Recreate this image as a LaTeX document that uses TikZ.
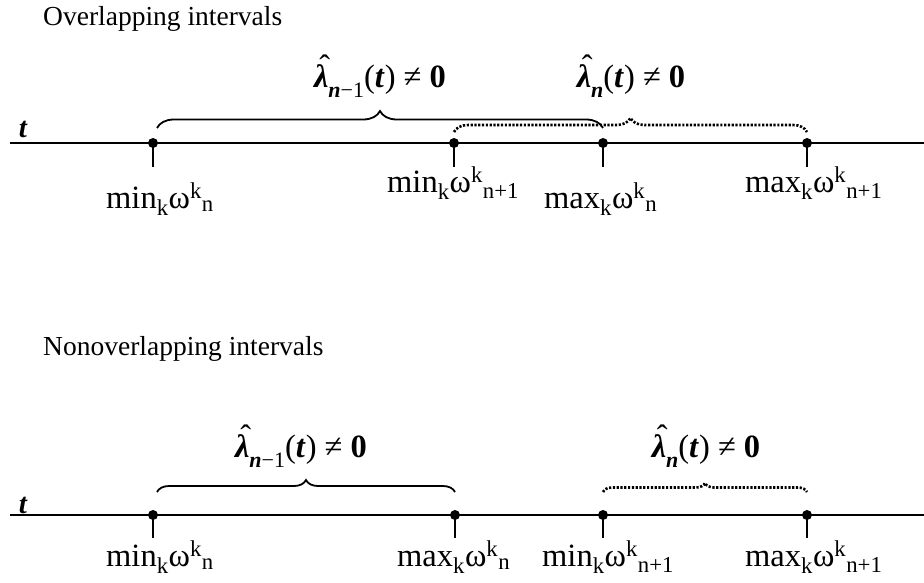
\documentclass[tikz,border=0pt]{standalone}
\usepackage{fontspec}
\setmainfont{Liberation Serif}
\usetikzlibrary{decorations.pathreplacing}

\newcommand{\lamhat}{\leavevmode\makebox[0pt][l]{\hspace{0.16em}\raisebox{0.3em}{ˆ}}{\bfseries\itshape λ}}
\newcommand{\lamsub}[1]{\raisebox{-0.33em}{\fontsize{22}{24}\selectfont #1}}
\newcommand{\wk}[2]{#1\textsubscript{k}ω\textsuperscript{k}\textsubscript{#2}}

\begin{document}
\begin{tikzpicture}[x=1pt,y=-1pt,
  axis/.style={line width=1.8pt},
  tickline/.style={line width=1.4pt},
  dot/.style={radius=5pt},
  solidbrace/.style={decorate,decoration={brace,amplitude=#1},line width=1.8pt},
  dotbrace/.style={decorate,decoration={brace,amplitude=#1},line width=2.6pt,dash pattern=on 2.2pt off 1.6pt},
  ttl/.style={anchor=base west,inner sep=0pt,font=\fontsize{27.5}{33}\selectfont},
  lbl/.style={anchor=base west,inner sep=0pt,font=\fontsize{32.5}{38}\selectfont},
  lam/.style={anchor=base,inner sep=0pt,font=\fontsize{32.5}{38}\selectfont},
  tvar/.style={inner sep=0pt,font=\fontsize{29}{34}\selectfont\bfseries\itshape}]
  \useasboundingbox (0,0) rectangle (924,582);

  % overlapping intervals
  \node[ttl] (ovtitle) at (43,25) {Overlapping intervals};
  \coordinate (ovL) at (10,143);
  \coordinate (ovR) at (924,143);
  \coordinate (ov1) at (153,143);
  \coordinate (ov2) at (454,143);
  \coordinate (ov3) at (603,143);
  \coordinate (ov4) at (807,143);
  \coordinate (ov1t) at (153,167);
  \coordinate (ov2t) at (454,167);
  \coordinate (ov3t) at (603,167);
  \coordinate (ov4t) at (807,167);
  \node[tvar] (ovt) at (23,129) {t};
  \draw[axis] (ovL) -- (ovR);
  \draw[tickline] (ov1) -- (ov1t);
  \draw[tickline] (ov2) -- (ov2t);
  \draw[tickline] (ov3) -- (ov3t);
  \draw[tickline] (ov4) -- (ov4t);
  \fill (ov1) circle[dot];
  \fill (ov2) circle[dot];
  \fill (ov3) circle[dot];
  \fill (ov4) circle[dot];
  \node[lbl] (ov1l) at (106,208) {\wk{min}{n}};
  \node[lbl] (ov2l) at (387,192) {\wk{min}{n+1}};
  \node[lbl] (ov3l) at (544,208) {\wk{max}{n}};
  \node[lbl] (ov4l) at (745,192) {\wk{max}{n+1}};
  \draw[solidbrace=17pt] ([xshift=4pt,yshift=15pt]ov1) -- ([yshift=15pt]ov3);
  \draw[dotbrace=14pt] ([yshift=11pt]ov2) -- ([yshift=11pt]ov4);
  \node[lam] (ovlam1) at (380,87) {\lamhat\lamsub{\textbf{\textit{n}}−1}(\textbf{\textit{t}}) ≠ \textbf{0}};
  \node[lam] (ovlam2) at (631,87) {\lamhat\lamsub{\textbf{\textit{n}}}(\textbf{\textit{t}}) ≠ \textbf{0}};

  % nonoverlapping intervals
  \node[ttl] (notitle) at (43,355) {Nonoverlapping intervals};
  \coordinate (noL) at (10,515);
  \coordinate (noR) at (924,515);
  \coordinate (no1) at (153,515);
  \coordinate (no2) at (455,515);
  \coordinate (no3) at (603,515);
  \coordinate (no4) at (807,515);
  \coordinate (no1t) at (153,538);
  \coordinate (no2t) at (455,538);
  \coordinate (no3t) at (603,538);
  \coordinate (no4t) at (807,538);
  \node[tvar] (not) at (23,505) {t};
  \draw[axis] (noL) -- (noR);
  \draw[tickline] (no1) -- (no1t);
  \draw[tickline] (no2) -- (no2t);
  \draw[tickline] (no3) -- (no3t);
  \draw[tickline] (no4) -- (no4t);
  \fill (no1) circle[dot];
  \fill (no2) circle[dot];
  \fill (no3) circle[dot];
  \fill (no4) circle[dot];
  \node[lbl] (no1l) at (106,566) {\wk{min}{n}};
  \node[lbl] (no2l) at (397,566) {\wk{max}{n}};
  \node[lbl] (no3l) at (542,566) {\wk{min}{n+1}};
  \node[lbl] (no4l) at (745,566) {\wk{max}{n+1}};
  \draw[solidbrace=12pt] ([xshift=4pt,yshift=23pt]no1) -- ([yshift=23pt]no2);
  \draw[dotbrace=9pt] ([yshift=23pt]no3) -- ([yshift=23pt]no4);
  \node[lam] (nolam1) at (301,457) {\lamhat\lamsub{\textbf{\textit{n}}−1}(\textbf{\textit{t}}) ≠ \textbf{0}};
  \node[lam] (nolam2) at (706,457) {\lamhat\lamsub{\textbf{\textit{n}}}(\textbf{\textit{t}}) ≠ \textbf{0}};
\end{tikzpicture}
\end{document}
